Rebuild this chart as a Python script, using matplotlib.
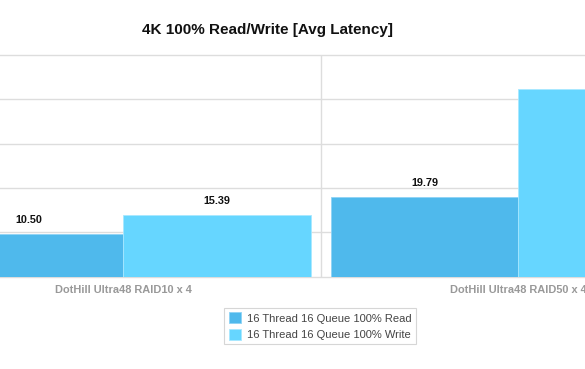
import matplotlib
matplotlib.use("Agg")
import matplotlib.pyplot as plt
from matplotlib.transforms import blended_transform_factory
import numpy as np

plt.rcParams['font.family'] = ['Liberation Sans', 'DejaVu Sans']

title = "4K 100% Read/Write [Avg Latency]"
categories = ["DotHill Ultra48 RAID10 x 4", "DotHill Ultra48 RAID50 x 4"]
series_names = ["16 Thread 16 Queue 100% Read", "16 Thread 16 Queue 100% Write"]
read_values = [10.50, 19.79]
write_values = [15.39, 46.50]
colors = ["#4FB9EC", "#66D6FF"]
y_max = 55
y_step = 11

fig = plt.figure(figsize=(5.85, 3.69), dpi=100)
ax = fig.add_axes([0.0, 0.2499, 1.0, 0.6019])

x = np.arange(len(categories))
w = 0.4743
ax.bar(x - w / 2, read_values, width=w, color=colors[0], edgecolor="#8FD3F5", linewidth=0.6, label=series_names[0], zorder=3)
ax.bar(x + w / 2, write_values, width=w, color=colors[1], edgecolor="#A8E8FF", linewidth=0.6, label=series_names[1], zorder=3)

for xi, v in zip(x - w / 2, read_values):
    ax.annotate(f"{v:.2f}", (xi, v), xytext=(0, 9), textcoords="offset pixels",
                ha="center", va="bottom", fontsize=7.8, fontweight="bold", color="#111111", zorder=4)
for xi, v in zip(x + w / 2, write_values):
    ax.annotate(f"{v:.2f}", (xi, v), xytext=(0, 9), textcoords="offset pixels",
                ha="center", va="bottom", fontsize=7.8, fontweight="bold", color="#111111", zorder=4)

ax.set_xlim(-0.3112, 1.1687)
ax.set_ylim(0, y_max)
for yv in np.arange(0, y_max + 0.1, y_step):
    ax.axhline(yv, color="#DDDDDD", linewidth=1.0, zorder=1, clip_on=False)
for xv in [-0.5, 0.5, 1.5]:
    ax.axvline(xv, color="#DDDDDD", linewidth=1.0, zorder=1)

for s in ax.spines.values():
    s.set_visible(False)
ax.set_xticks([])
ax.set_yticks([])

trans = blended_transform_factory(ax.transData, ax.transAxes)
for xi, c in zip(x, categories):
    ax.annotate(c, (xi, 0), xycoords=trans, xytext=(0, -8), textcoords="offset pixels",
                ha="center", va="top", fontsize=7.9, fontweight="bold", color="#999999", annotation_clip=False)

fig.text(268 / 585, 1 - 30 / 369, title, ha="center", va="center", fontsize=11, fontweight="bold", color="#111111")

leg = fig.legend(loc="center", bbox_to_anchor=(320 / 585, 1 - 326 / 369), frameon=True, fancybox=False,
                 fontsize=8, handlelength=1.1, handleheight=1.2, handletextpad=0.5, borderpad=0.4,
                 labelspacing=0.45, edgecolor="#CCCCCC", labelcolor="#444444")
leg.get_frame().set_linewidth(0.8)

fig.savefig("out.png", dpi=100)
